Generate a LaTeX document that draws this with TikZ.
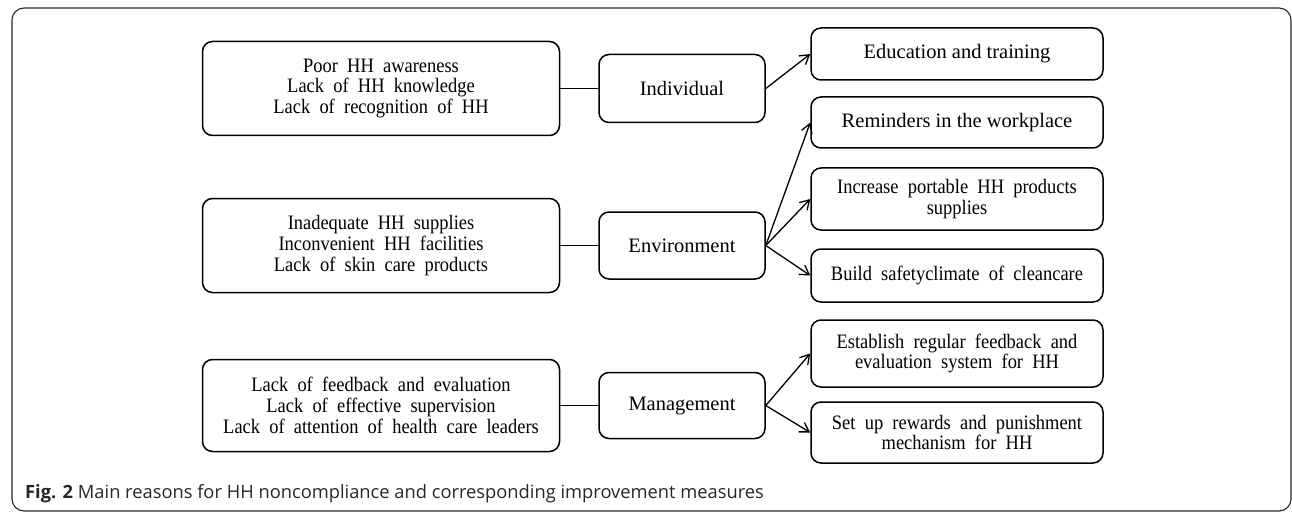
\documentclass[tikz,border=0pt]{standalone}
\usepackage{fontspec}
\usetikzlibrary{arrows.meta}
\newfontfamily\boxfont{Liberation Serif}
\newfontfamily\narrowserif{Liberation Serif}[FakeStretch=0.9]
\newfontfamily\capfont{Open Sans}
\newcommand\widewords{\spaceskip=0.45em plus 0.1em\relax}
\begin{document}
\begin{tikzpicture}[x=1pt,y=-1pt,
  box/.style={draw, line width=1.5pt, rounded corners=10pt, align=center,
    inner sep=0pt, font=\boxfont\fontsize{20.5}{20.7}\selectfont},
  widetext/.style={font=\narrowserif\fontsize{20.5}{20.7}\selectfont,
    execute at begin node=\widewords},
  reason/.style={box, widetext, minimum width=357pt, minimum height=94pt},
  factor/.style={box, minimum width=166pt, minimum height=67pt},
  measure/.style={box, minimum width=292pt},
  link/.style={line width=1.3pt},
  arr/.style={line width=1.3pt, -{Straight Barb[length=9pt,width=11pt,line width=1.3pt]}}]
\useasboundingbox (0,0) rectangle (1292,513);
% outer frame
\draw[line width=1.1pt, black!85, rounded corners=12pt] (12,8) rectangle (1291,511);

% reasons
\node[reason] (r1) at (381,88.5) {Poor HH awareness\\Lack of HH knowledge\\Lack of recognition of HH};
\node[reason] (r2) at (381,245.5) {Inadequate HH supplies\\Inconvenient HH facilities\\Lack of skin care products};
\node[reason, minimum height=92pt] (r3) at (381,405.5) {Lack of feedback and evaluation\\Lack of effective supervision\\Lack of attention of health care leaders};

% factors
\node[factor, minimum height=68pt] (ind) at (682,88.5) {Individual};
\node[factor] (env) at (682,245.5) {Environment};
\node[factor, minimum height=66pt] (man) at (682,405.5) {Management};

% measures
\node[measure, minimum height=52pt] (edu) at (957,54) {Education and training};
\node[measure, minimum height=51pt] (rem) at (957,122.5) {Reminders in the workplace};
\node[measure, widetext, minimum height=62pt] (inc) at (957,199) {Increase portable HH products\\supplies};
\node[measure, widetext, minimum height=53pt] (bui) at (957,275.5) {Build safetyclimate of cleancare};
\node[measure, widetext, minimum height=67pt] (est) at (957,353.5) {Establish regular feedback and\\evaluation system for HH};
\node[measure, widetext, minimum height=61pt] (set) at (957,432.5) {Set up rewards and punishment\\mechanism for HH};

% reason -> factor links
\draw[link] (r1.east) -- (ind.west);
\draw[link] (r2.east) -- (env.west);
\draw[link] (r3.east) -- (man.west);

% factor -> measure arrows
\draw[arr] (ind.east) -- (edu.west);
\draw[arr] (env.east) -- (rem.west);
\draw[arr] (env.east) -- (inc.west);
\draw[arr] (env.east) -- (bui.west);
\draw[arr] (man.east) -- (est.west);
\draw[arr] (man.east) -- (set.west);

% caption
\node[anchor=base west, inner sep=0pt, text=black!85, font=\capfont\fontsize{18.3}{20}\selectfont] (cap) at (25,498)
  {\textbf{Fig. 2} Main reasons for HH noncompliance and corresponding improvement measures};
\end{tikzpicture}
\end{document}
